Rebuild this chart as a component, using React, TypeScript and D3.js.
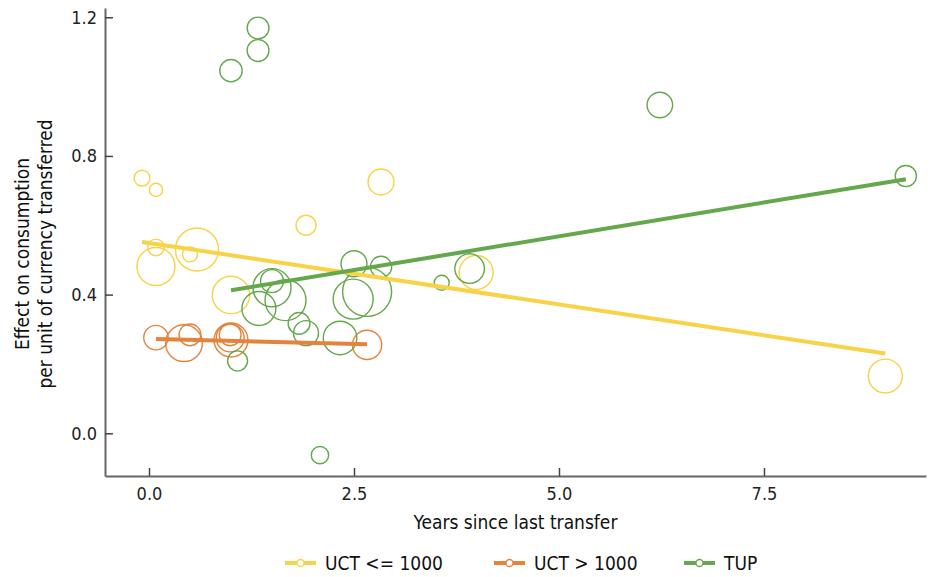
'use client'

import { useEffect, useRef } from 'react'
import * as d3 from 'd3'

// group names shown in the legend
const groups = ['UCT <= 1000', 'UCT > 1000', 'TUP']

// [years since last transfer, effect per unit transferred, study weight]
const uctSmall = [
  [-0.085, 0.736, 10], [0.085, 0.702, 7], [0.085, 0.536, 11], [0.085, 0.481, 58],
  [0.585, 0.53, 74], [0.5, 0.516, 9], [1.0, 0.399, 56], [1.915, 0.6, 16],
  [2.83, 0.725, 27], [3.99, 0.464, 46], [8.98, 0.165, 46]
]

const uctLarge = [
  [0.085, 0.276, 24], [0.427, 0.26, 54], [0.5, 0.284, 19], [1.0, 0.269, 46],
  [0.99, 0.275, 31], [0.99, 0.284, 19], [2.66, 0.255, 34]
]

const tup = [
  [1.0, 1.046, 20], [1.33, 1.104, 19], [1.33, 1.169, 19], [6.23, 0.947, 26],
  [9.23, 0.742, 18], [2.085, -0.063, 12], [1.08, 0.209, 16], [3.57, 0.434, 9],
  [3.91, 0.475, 35], [1.5, 0.439, 21], [1.5, 0.42, 58], [1.665, 0.384, 67],
  [1.34, 0.36, 46], [1.83, 0.317, 19], [1.915, 0.289, 25], [2.33, 0.275, 45],
  [2.5, 0.489, 27], [2.83, 0.48, 18], [2.49, 0.387, 64], [2.66, 0.408, 96]
]

// fitted lines: [intercept, slope]
const fits = [[0.549, -0.0355], [0.2725, -0.0059], [0.3735, 0.03895]]

const xTicks = [0, 2.5, 5, 7.5]
const yTicks = [0, 0.4, 0.8, 1.2]

const colors = ['#F8D247', '#E4833A', '#64A74C']

export default function EffectChart() {
  const svgRef = useRef<SVGSVGElement | null>(null)

  useEffect(() => {
    if (!svgRef.current) return
    const svg = d3.select(svgRef.current)
    svg.selectAll('*').remove()

    const width = 934
    const height = 577
    const left = 105, right = 926, top = 8, bottom = 476
    const font = "'Liberation Sans Narrow', 'DejaVu Sans Condensed', 'Roboto', sans-serif"

    svg.attr('width', width).attr('height', height)

    const x = d3.scaleLinear().domain([-0.5366, 9.476]).range([left, right])
    const y = d3.scaleLinear().domain([-0.1232, 1.2267]).range([bottom, top])
    const r = d3.scaleSqrt().domain([0, 100]).range([0, 25])

    const series = [uctSmall, uctLarge, tup]

    // points
    series.forEach((data, i) => {
      svg.append('g')
        .selectAll('circle')
        .data(data)
        .enter().append('circle')
        .attr('cx', (d: any) => x(d[0]))
        .attr('cy', (d: any) => y(d[1]))
        .attr('r', (d: any) => r(d[2]))
        .attr('fill', 'none')
        .attr('stroke', colors[i])
        .attr('stroke-width', 1.4)
    })

    // regression lines over each group's x range
    series.forEach((data, i) => {
      const [a, b] = fits[i]
      const ext = d3.extent(data, (d: any) => d[0]) as [number, number]
      const line = d3.line<number>().x(v => x(v)).y(v => y(a + b * v))
      svg.append('path')
        .attr('d', line(ext))
        .attr('fill', 'none')
        .attr('stroke', colors[i])
        .attr('stroke-width', 4)
    })

    // axes
    const xAxis = svg.append('g')
      .attr('transform', `translate(0,${bottom})`)
      .call(d3.axisBottom(x).tickValues(xTicks).tickFormat(d3.format('.1f')).tickSizeInner(-8).tickSizeOuter(0).tickPadding(11))
    const yAxis = svg.append('g')
      .attr('transform', `translate(${left},0)`)
      .call(d3.axisLeft(y).tickValues(yTicks).tickFormat(d3.format('.1f')).tickSizeInner(-8).tickSizeOuter(0).tickPadding(8))

    ;[xAxis, yAxis].forEach(ax => {
      ax.select('.domain').attr('stroke', '#666').attr('stroke-width', 2)
      ax.selectAll('.tick line').attr('stroke', '#444').attr('stroke-width', 1.5)
      ax.selectAll('.tick text')
        .style('font-family', font)
        .style('font-size', '18px')
        .attr('fill', '#222')
    })

    // axis titles
    svg.append('text')
      .attr('x', (left + right) / 2)
      .attr('y', 529)
      .attr('text-anchor', 'middle')
      .style('font-family', font)
      .style('font-size', '19px')
      .attr('fill', '#111')
      .text('Years since last transfer')

    const yTitle = svg.append('text')
      .attr('transform', 'translate(0,254) rotate(-90)')
      .attr('text-anchor', 'middle')
      .style('font-family', font)
      .style('font-size', '19px')
      .attr('fill', '#111')
    yTitle.append('tspan').attr('x', 0).attr('y', 29).text('Effect on consumption')
    yTitle.append('tspan').attr('x', 0).attr('y', 52).text('per unit of currency transferred')

    // legend
    const legendX = [285, 494, 684]
    const legend = svg.append('g').attr('transform', 'translate(0,563)')
    groups.forEach((g, i) => {
      const item = legend.append('g').attr('transform', `translate(${legendX[i]},0)`)
      item.append('line')
        .attr('x1', 0).attr('x2', 31)
        .attr('stroke', colors[i]).attr('stroke-width', 4)
      item.append('circle')
        .attr('cx', 15.5).attr('r', 3.5)
        .attr('fill', 'white').attr('stroke', colors[i]).attr('stroke-width', 1.3)
      item.append('text')
        .attr('x', 40).attr('dy', '0.35em')
        .style('font-family', font)
        .style('font-size', '19px')
        .attr('fill', '#111')
        .text(g)
    })
  }, [])

  return (
    <div style={{ position: 'absolute', left: 0, top: 0 }}>
      <svg ref={svgRef}></svg>
    </div>
  )
}
